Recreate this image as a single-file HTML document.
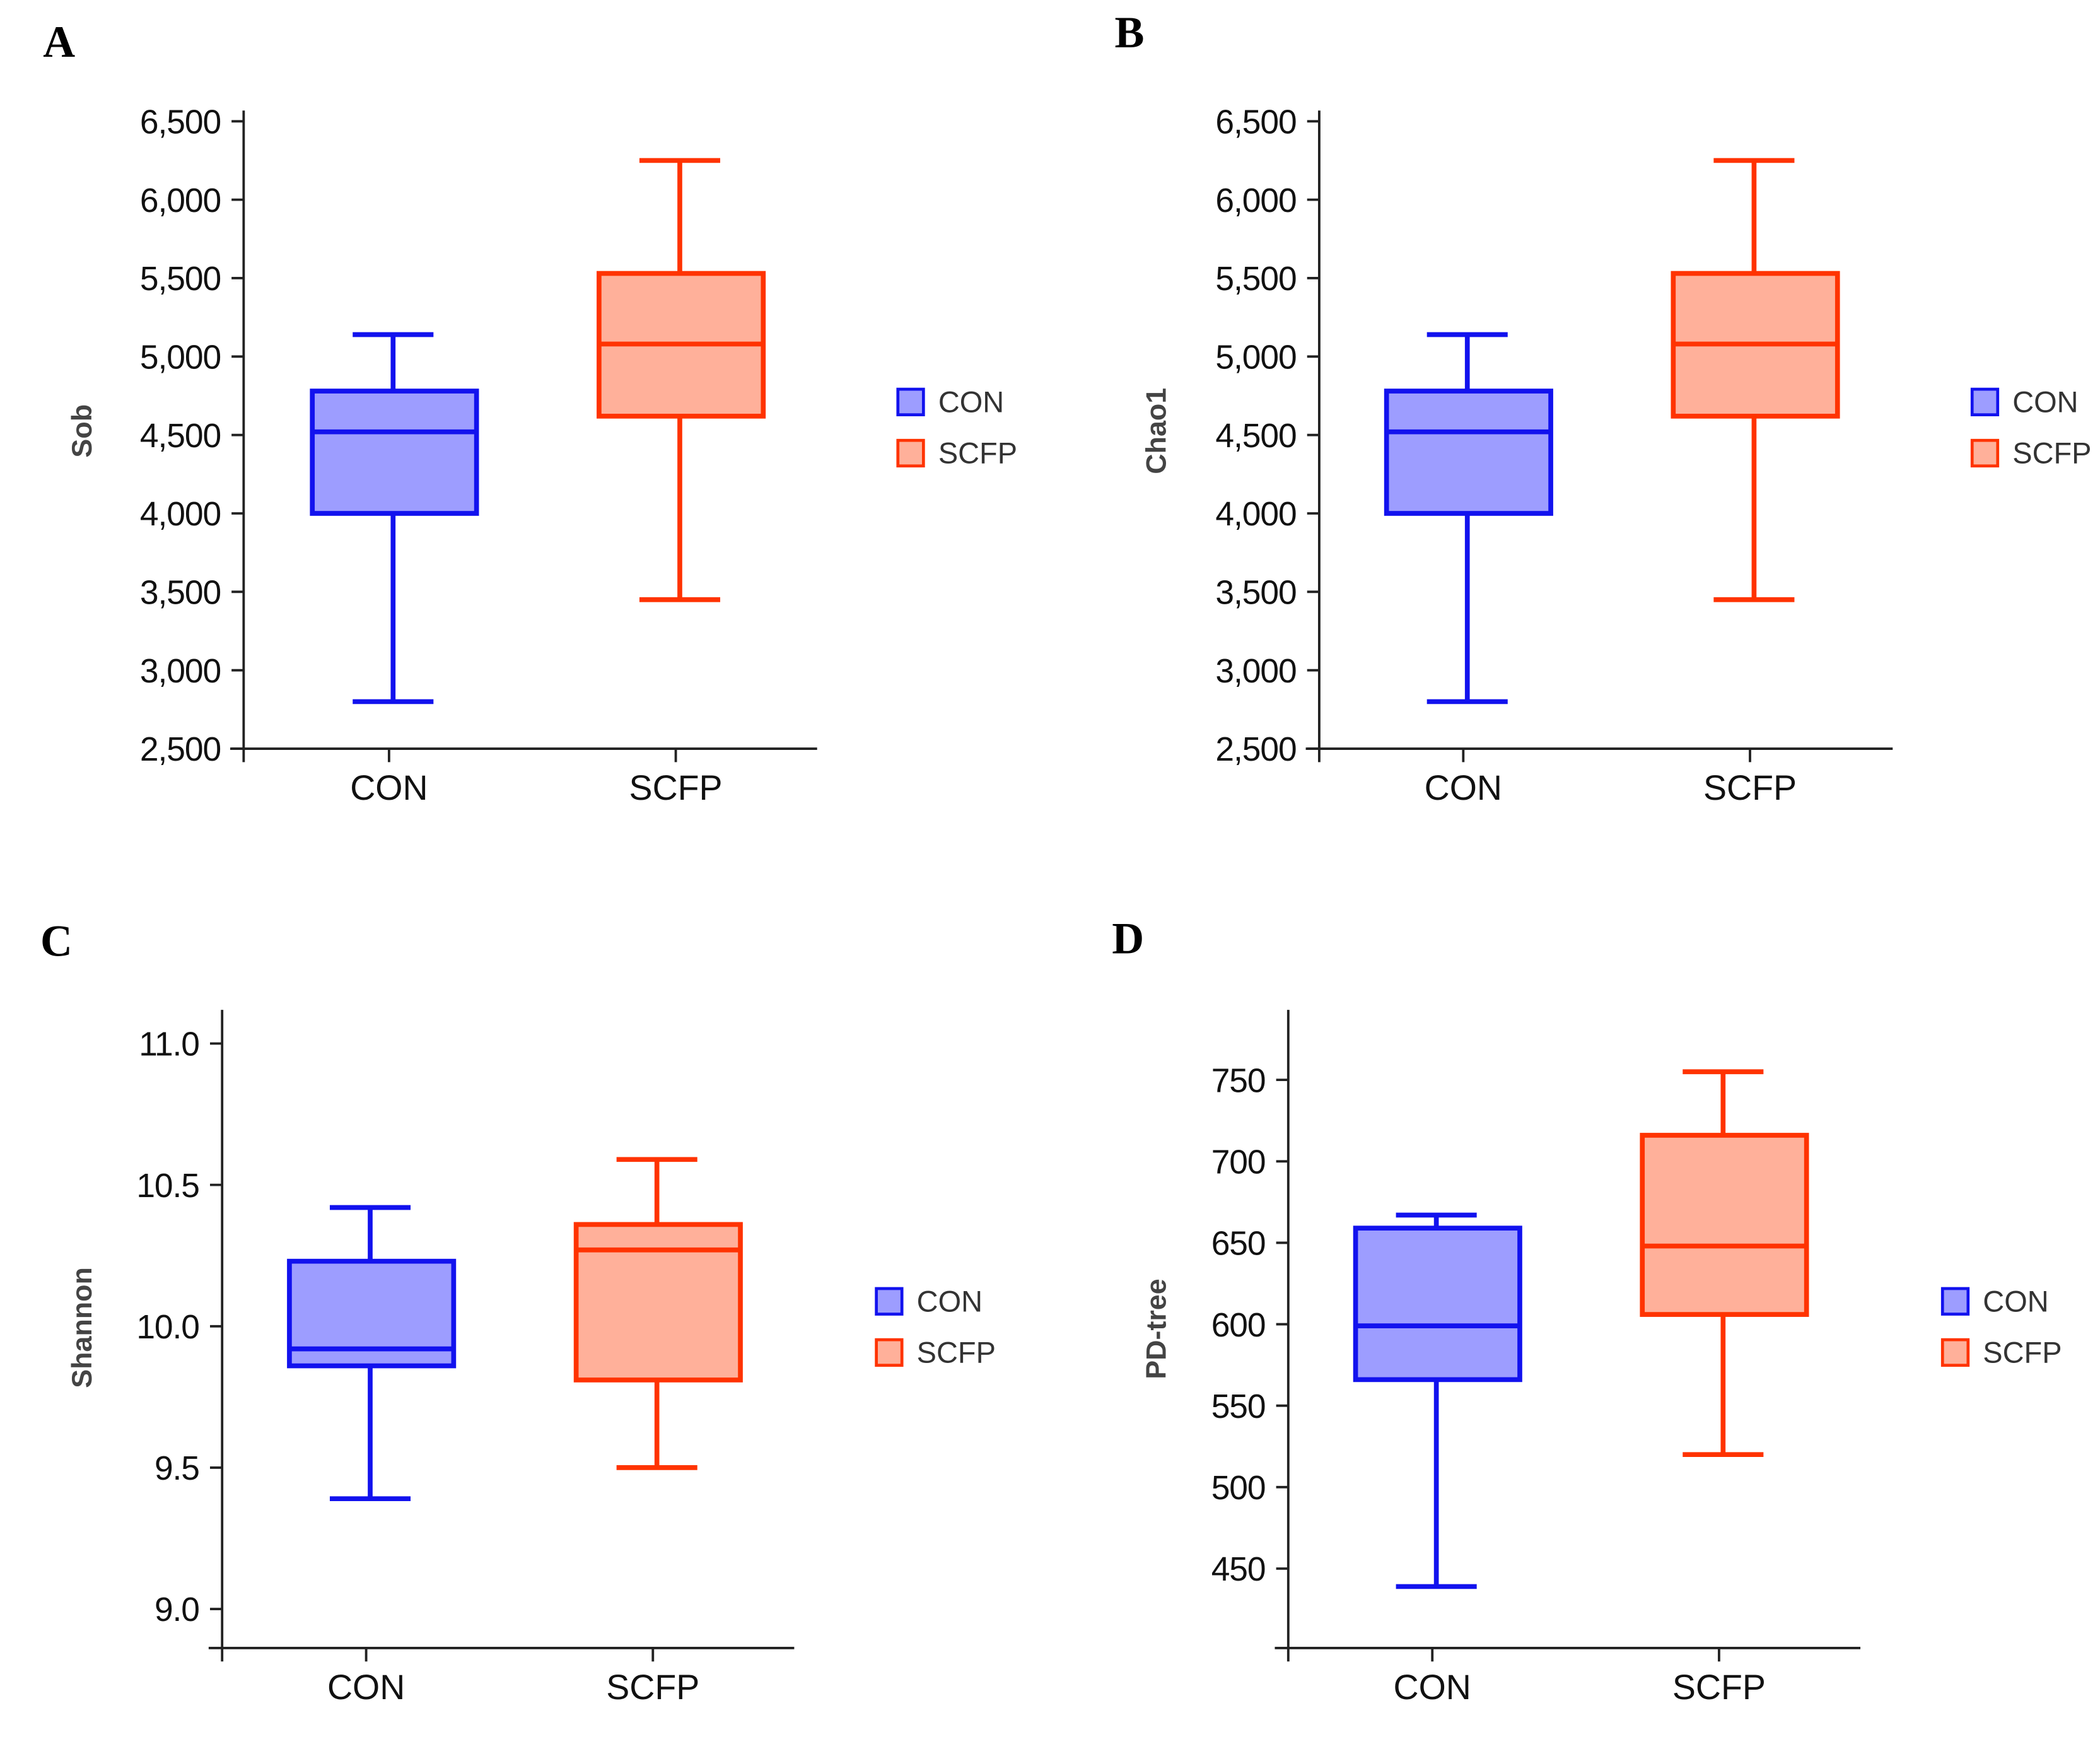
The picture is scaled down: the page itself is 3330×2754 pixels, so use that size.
<!DOCTYPE html>
<html><head><meta charset="utf-8"><style>
html,body{margin:0;padding:0;background:#fff;}
svg{display:block;}
</style></head><body>
<svg id="fig" width="3330" height="2754" viewBox="0 0 1560 1290" xmlns="http://www.w3.org/2000/svg"></svg>
<script>
const categories = ["CON", "SCFP"];
// panel A (Sob): [min, q1, median, q3, max]
const sobCON = [2800, 4000, 4520, 4780, 5140];
const sobSCFP = [3450, 4620, 5080, 5530, 6250];
const sobTicks = [2500, 3000, 3500, 4000, 4500, 5000, 5500, 6000, 6500];
const sobTickLabels = ["2,500","3,000","3,500","4,000","4,500","5,000","5,500","6,000","6,500"];
// panel B (Chao1)
const chaoCON = [2800, 4000, 4520, 4780, 5140];
const chaoSCFP = [3450, 4620, 5080, 5530, 6250];
const chaoTicks = [2500, 3000, 3500, 4000, 4500, 5000, 5500, 6000, 6500];
const chaoTickLabels = ["2,500","3,000","3,500","4,000","4,500","5,000","5,500","6,000","6,500"];
// panel C (Shannon)
const shanCON = [9.39, 9.86, 9.92, 10.23, 10.42];
const shanSCFP = [9.50, 9.81, 10.27, 10.36, 10.59];
const shanTicks = [9.0, 9.5, 10.0, 10.5, 11.0];
const shanTickLabels = ["9.0","9.5","10.0","10.5","11.0"];
// panel D (PD-tree)
const pdCON = [439, 566, 599, 659, 667];
const pdSCFP = [520, 606, 648, 716, 755];
const pdTicks = [450, 500, 550, 600, 650, 700, 750];
const pdTickLabels = ["450","500","550","600","650","700","750"];

const NS = "http://www.w3.org/2000/svg";
const svg = document.getElementById("fig");
function mk(tag, attrs, parent) {
  const e = document.createElementNS(NS, tag);
  for (const k in attrs) e.setAttribute(k, attrs[k]);
  (parent || svg).appendChild(e);
  return e;
}
const SANS = "font-family:'Liberation Sans',sans-serif;";
const COLORS = [{s:"#1212ee", f:"#9d9dff"}, {s:"#ff3300", f:"#ffb09a"}];

function panel(cfg) {
  const g = mk("g", {});
  
  
  const y = v => cfg.y0 + (v - cfg.v0) * (cfg.y1 - cfg.y0) / (cfg.v1 - cfg.v0);
  const ax = cfg.ax;
  const lab = mk("text", {x: cfg.lx, y: cfg.ly, style: "font-family:'Liberation Serif',serif;font-weight:bold;font-size:33px;", fill: "#000"}, g);
  lab.textContent = cfg.letter;
  
  
  const yaxis = mk("line", {x1: ax, y1: cfg.top, x2: ax, y2: cfg.base + 10, stroke: "#222", "stroke-width": 1.8}, g);
  
  
  const xaxis = mk("line", {x1: ax - 10, y1: cfg.base, x2: cfg.right, y2: cfg.base, stroke: "#222", "stroke-width": 1.8}, g);
  
  
  cfg.ticks.forEach((t, i) => {
    const ty = y(t);
    const tl = mk("line", {x1: ax - 9, y1: ty, x2: ax, y2: ty, stroke: "#222", "stroke-width": 1.8}, g);
    
    
    const tx = mk("text", {x: ax - 17, y: ty + 9, "text-anchor": "end", style: SANS + "font-size:25px;letter-spacing:-0.5px;", fill: "#111"}, g);
    tx.textContent = cfg.tickLabels[i];
    
    
  });
  const yt = mk("text", {x: 0, y: 0, transform: `translate(${cfg.ytx},${cfg.yty}) rotate(-90)`, "text-anchor": "middle", style: SANS + "font-size:21px;font-weight:bold;", fill: "#444"}, g);
  yt.textContent = cfg.ytitle;
  
  
  cfg.series.forEach((d, i) => {
    const cx = cfg.cx[i], c = COLORS[i];
    const tk = mk("line", {x1: cx, y1: cfg.base, x2: cx, y2: cfg.base + 10, stroke: "#222", "stroke-width": 1.8}, g);
    
    
    const xl = mk("text", {x: cx, y: cfg.base + 38, "text-anchor": "middle", style: SANS + "font-size:26px;", fill: "#111"}, g);
    xl.textContent = categories[i];
    
    
    const bg = mk("g", {}, g);
    
    
    const sw = 3.6;
    mk("line", {x1: cx + 3, y1: y(d[0]), x2: cx + 3, y2: y(d[4]), stroke: c.s, "stroke-width": sw}, bg);
    mk("line", {x1: cx - 27, y1: y(d[0]), x2: cx + 33, y2: y(d[0]), stroke: c.s, "stroke-width": sw}, bg);
    mk("line", {x1: cx - 27, y1: y(d[4]), x2: cx + 33, y2: y(d[4]), stroke: c.s, "stroke-width": sw}, bg);
    mk("rect", {x: cx - 57, y: y(d[3]), width: 122, height: y(d[1]) - y(d[3]), fill: c.f, stroke: c.s, "stroke-width": sw}, bg);
    mk("line", {x1: cx - 57, y1: y(d[2]), x2: cx + 65, y2: y(d[2]), stroke: c.s, "stroke-width": sw}, bg);
    const le = mk("g", {}, g);
    
    
    const ly = cfg.legY + i * 38;
    mk("rect", {x: cfg.legX, y: ly - 9, width: 19, height: 19, fill: c.f, stroke: c.s, "stroke-width": 2.2}, le);
    const lt = mk("text", {x: cfg.legX + 30, y: ly + 8, style: SANS + "font-size:22px;", fill: "#333"}, le);
    lt.textContent = categories[i];
  });
}

panel({name:"panel-a-sob", letter:"A", lx:32, ly:42, ax:181, top:82, base:556, right:607,
  v0:2500, y0:556, v1:6500, y1:90, ticks:sobTicks, tickLabels:sobTickLabels,
  ytitle:"Sob", ytx:68, yty:320, cx:[289,502], series:[sobCON, sobSCFP], legX:667, legY:298});
panel({name:"panel-b-chao1", letter:"B", lx:828, ly:35, ax:980, top:82, base:556, right:1406,
  v0:2500, y0:556, v1:6500, y1:90, ticks:chaoTicks, tickLabels:chaoTickLabels,
  ytitle:"Chao1", ytx:866, yty:320, cx:[1087,1300], series:[chaoCON, chaoSCFP], legX:1465, legY:298});
panel({name:"panel-c-shannon", letter:"C", lx:30, ly:710, ax:165, top:750, base:1224, right:590,
  v0:9.0, y0:1195, v1:11.0, y1:775, ticks:shanTicks, tickLabels:shanTickLabels,
  ytitle:"Shannon", ytx:68, yty:986, cx:[272,485], series:[shanCON, shanSCFP], legX:651, legY:966});
panel({name:"panel-d-pd-tree", letter:"D", lx:826, ly:708, ax:957, top:750, base:1224, right:1382,
  v0:450, y0:1165, v1:750, y1:802, ticks:pdTicks, tickLabels:pdTickLabels,
  ytitle:"PD-tree", ytx:866, yty:987, cx:[1064,1277], series:[pdCON, pdSCFP], legX:1443, legY:966});
</script>
</body></html>
